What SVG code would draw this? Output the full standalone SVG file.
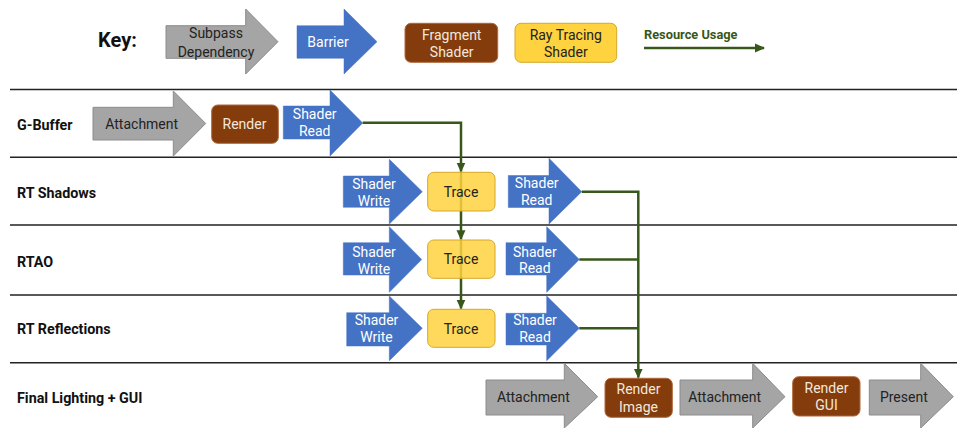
<svg xmlns="http://www.w3.org/2000/svg" width="957" height="428" viewBox="0 0 957 428">
<style>
.gray{fill:#A5A5A5;stroke:#8C8C8C;stroke-width:1}
.blue{fill:#4472C4;stroke:#4472C4;stroke-width:0.5}
.frag{fill:#843C0C;stroke:#B0673A;stroke-width:1}
.rtb{fill:#FFD23F;stroke:#D4A82A;stroke-width:1}
.trace{fill-opacity:0.85}
.sep{stroke:#222;stroke-width:1.6}
.t{font-family:Roboto,"Liberation Sans",Arial,sans-serif;font-size:14px;text-anchor:middle}
.dk{fill:#222}
.wt{fill:#FFFFFF}
.lt{fill:#F3E8DE}
.row{font-family:Roboto,"Liberation Sans",Arial,sans-serif;font-size:14.3px;font-weight:bold;fill:#111}
.use{fill:none;stroke:#38571A;stroke-width:2.5}
</style>
<defs>
<marker id="ah" viewBox="0 0 10 10" refX="9" refY="5" markerWidth="10" markerHeight="10" markerUnits="userSpaceOnUse" orient="auto">
<path d="M0,0.5 L10,5 L0,9.5 z" fill="#38571A"/>
</marker>
</defs>
<rect width="957" height="428" fill="#FFFFFF"/>

<g id="separators">
<line class="sep" x1="10" y1="89.5" x2="957" y2="89.5"/>
<line class="sep" x1="10" y1="157.3" x2="957" y2="157.3"/>
<line class="sep" x1="10" y1="225" x2="957" y2="225"/>
<line class="sep" x1="10" y1="295" x2="957" y2="295"/>
<line class="sep" x1="10" y1="362.7" x2="957" y2="362.7"/>
</g>

<g id="key">
<text x="98" y="47" font-family="Roboto,'Liberation Sans',Arial,sans-serif" font-size="20" font-weight="bold" fill="#111">Key:</text>
<g id="key-subpass">
<polygon class="gray" points="166,25.7 245.7,25.7 245.7,9 278,41.7 245.7,74 245.7,58.3 166,58.3"/>
<text class="t dk" x="216" y="38">Subpass</text>
<text class="t dk" x="216" y="56.5">Dependency</text>
</g>
<g id="key-barrier">
<polygon class="blue" points="297,25.7 344,25.7 344,9 377,41.7 344,74 344,58.3 297,58.3"/>
<text class="t wt" x="328" y="47">Barrier</text>
</g>
<g id="key-fragment">
<rect class="frag" x="405" y="23.3" width="92.7" height="39" rx="6"/>
<text class="t lt" x="451.7" y="40">Fragment</text>
<text class="t lt" x="451.7" y="57">Shader</text>
</g>
<g id="key-raytracing">
<rect class="rtb" x="515" y="23.3" width="101.7" height="39" rx="6"/>
<text class="t dk" x="565.8" y="40">Ray Tracing</text>
<text class="t dk" x="565.8" y="57">Shader</text>
</g>
<g id="key-resource">
<text x="644" y="38.8" font-family="Roboto,'Liberation Sans',Arial,sans-serif" font-size="12.8" font-weight="bold" fill="#38571A">Resource Usage</text>
<line class="use" x1="644" y1="48" x2="764" y2="48" marker-end="url(#ah)"/>
</g>
</g>

<g id="row-labels">
<text class="row" x="17" y="130">G-Buffer</text>
<text class="row" x="17" y="198.3">RT Shadows</text>
<text class="row" x="17" y="266.7">RTAO</text>
<text class="row" x="17" y="334.3">RT Reflections</text>
<text class="row" x="17" y="403.3">Final Lighting + GUI</text>
</g>

<g id="gb-attachment">
<polygon class="gray" points="93,107.3 173.3,107.3 173.3,91 205.7,123.5 173.3,156 173.3,140 93,140"/>
<text class="t dk" x="141.7" y="129">Attachment</text>
</g>
<g id="gb-render">
<rect class="frag" x="211.7" y="105" width="66.6" height="38.3" rx="6"/>
<text class="t lt" x="244.5" y="129">Render</text>
</g>
<g id="gb-shaderread">
<polygon class="blue" points="283.3,106 330,106 330,90 362.7,123 330,156 330,139 283.3,139"/>
<text class="t wt" x="314.7" y="119.3">Shader</text>
<text class="t wt" x="314.7" y="135.7">Read</text>
</g>

<g id="rts-shaderwrite">
<polygon class="blue" points="343.3,176 389.3,176 389.3,159.3 422.3,191.7 389.3,224 389.3,207.3 343.3,207.3"/>
<text class="t wt" x="374" y="189">Shader</text>
<text class="t wt" x="374" y="205.7">Write</text>
</g>
<g id="rts-shaderread">
<polygon class="blue" points="508.3,175.5 549,175.5 549,158.3 581.7,191.7 549,224 549,207.5 508.3,207.5"/>
<text class="t wt" x="536.7" y="188.3">Shader</text>
<text class="t wt" x="536.7" y="205">Read</text>
</g>

<g id="rtao-shaderwrite">
<polygon class="blue" points="343.3,242.7 389.3,242.7 389.3,226.7 421.7,259.5 389.3,292.3 389.3,275 343.3,275"/>
<text class="t wt" x="374" y="256.7">Shader</text>
<text class="t wt" x="374" y="274.3">Write</text>
</g>
<g id="rtao-shaderread">
<polygon class="blue" points="506,242.7 546.7,242.7 546.7,226.7 579.3,259.5 546.7,292.3 546.7,275 506,275"/>
<text class="t wt" x="534.8" y="256.7">Shader</text>
<text class="t wt" x="534.8" y="273">Read</text>
</g>

<g id="rtr-shaderwrite">
<polygon class="blue" points="346.7,312.7 389.3,312.7 389.3,296 422.3,328.3 389.3,360.7 389.3,346 346.7,346"/>
<text class="t wt" x="376.5" y="325">Shader</text>
<text class="t wt" x="376.5" y="342.3">Write</text>
</g>
<g id="rtr-shaderread">
<polygon class="blue" points="506,313.3 546.7,313.3 546.7,296 579.3,328.3 546.7,360.7 546.7,345 506,345"/>
<text class="t wt" x="535" y="325">Shader</text>
<text class="t wt" x="535" y="342">Read</text>
</g>

<g id="fl-attachment1">
<polygon class="gray" points="486,380 564.3,380 564.3,363.3 597.7,396.7 564.3,428 564.3,415 486,415"/>
<text class="t dk" x="533.3" y="402">Attachment</text>
</g>
<g id="fl-renderimage">
<rect class="frag" x="605" y="378.3" width="67.3" height="39" rx="6"/>
<text class="t lt" x="638.5" y="394.3">Render</text>
<text class="t lt" x="638.5" y="412.3">Image</text>
</g>
<g id="fl-attachment2">
<polygon class="gray" points="680,380 752.7,380 752.7,363.3 785,396.7 752.7,428 752.7,415 680,415"/>
<text class="t dk" x="724.7" y="402">Attachment</text>
</g>
<g id="fl-rendergui">
<rect class="frag" x="792.7" y="376.7" width="67.3" height="39.3" rx="6"/>
<text class="t lt" x="826.5" y="393.3">Render</text>
<text class="t lt" x="826.5" y="410">GUI</text>
</g>
<g id="fl-present">
<polygon class="gray" points="869.3,380 920.7,380 920.7,363.3 953.3,396.7 920.7,428 920.7,415 869.3,415"/>
<text class="t dk" x="903.8" y="402">Present</text>
</g>

<g id="connectors">
<path class="use" d="M362.7,122.7 H461 V171.5" marker-end="url(#ah)"/>
<path class="use" d="M461,172.3 V239.3" marker-end="url(#ah)"/>
<path class="use" d="M461,240 V308.6" marker-end="url(#ah)"/>
<path class="use" d="M581.7,191.7 H638.3 V377.6" marker-end="url(#ah)"/>
<path class="use" d="M579.3,259.4 H638.3"/>
<path class="use" d="M579.3,328.3 H638.3"/>
</g>

<g id="rts-trace">
<rect class="rtb trace" x="427.7" y="172.3" width="67.3" height="38.7" rx="6"/>
<text class="t dk" x="461" y="197.3">Trace</text>
</g>
<g id="rtao-trace">
<rect class="rtb trace" x="427.7" y="240" width="67.3" height="38.3" rx="6"/>
<text class="t dk" x="461" y="264.3">Trace</text>
</g>
<g id="rtr-trace">
<rect class="rtb trace" x="427.7" y="309.3" width="67.3" height="38" rx="6"/>
<text class="t dk" x="461" y="334">Trace</text>
</g>
</svg>
